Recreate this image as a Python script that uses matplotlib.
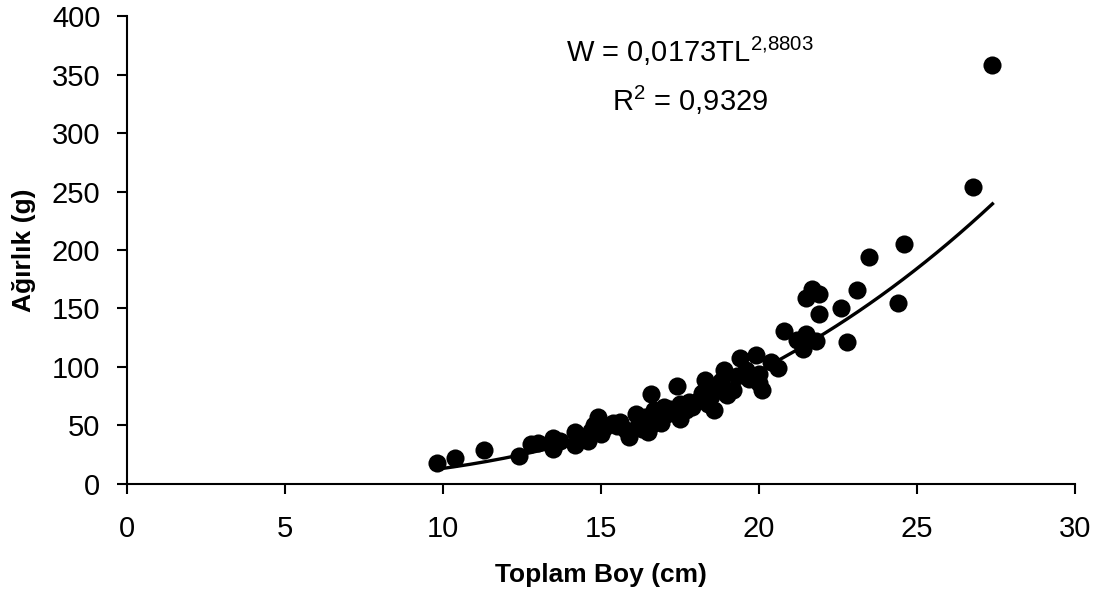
import matplotlib
matplotlib.use("Agg")
import matplotlib.pyplot as plt
import numpy as np

plt.rcParams['font.family'] = ['Liberation Sans', 'DejaVu Sans']
plt.rcParams['mathtext.fontset'] = 'custom'
plt.rcParams['mathtext.rm'] = 'Liberation Sans'

# Data
length_cm = [9.8, 10.4, 11.3, 12.4, 12.8, 13.0, 13.5, 13.5, 13.7, 14.2, 14.2, 14.4,
             14.6, 14.7, 14.8, 14.9, 15.0, 15.1, 15.4, 15.5, 15.6, 15.8, 15.9, 16.1,
             16.2, 16.3, 16.4, 16.5, 16.6, 16.6, 16.7, 16.8, 16.9, 17.0, 17.1, 17.2,
             17.4, 17.5, 17.5, 17.7, 17.8, 17.9, 18.1, 18.2, 18.3, 18.4, 18.5, 18.6,
             18.7, 18.8, 18.9, 19.0, 19.2, 19.3, 19.4, 19.6, 19.7, 19.9, 20.0, 20.0,
             20.1, 20.4, 20.6, 20.8, 21.2, 21.4, 21.5, 21.5, 21.7, 21.8, 21.9, 21.9,
             22.6, 22.8, 23.1, 23.5, 24.4, 24.6, 26.8, 27.4]
weight_g = [18, 22, 29, 24, 34, 35, 30, 39, 37, 33, 44, 40,
            37, 45, 50, 57, 43, 48, 52, 49, 53, 46, 40, 60,
            52, 47, 57, 44, 77, 50, 63, 58, 52, 66, 60, 64,
            84, 55, 68, 63, 70, 66, 72, 78, 89, 68, 75, 63,
            82, 88, 97, 76, 80, 92, 108, 97, 90, 110, 94, 86,
            80, 104, 99, 131, 123, 115, 159, 128, 167, 122, 162, 145,
            150, 121, 166, 194, 155, 205, 254, 358]

coef_a = 0.0173
coef_b = 2.8803
r2 = 0.9329
fit_range = [9.8, 27.4]

fig = plt.figure(figsize=(11.01, 5.98), dpi=100)
ax = fig.add_axes([0.1153, 0.191, 0.8607, 0.782])

ax.scatter(length_cm, weight_g, s=170, color='black', zorder=3, linewidths=0)
xf = np.linspace(fit_range[0], fit_range[1], 200)
ax.plot(xf, coef_a * xf ** coef_b, color='black', lw=2.4, zorder=2)

ax.set_xlim(0, 30)
ax.set_ylim(0, 400)
ax.set_xticks(range(0, 31, 5))
ax.set_yticks(range(0, 401, 50))
for s in ['top', 'right']:
    ax.spines[s].set_visible(False)
for s in ['left', 'bottom']:
    ax.spines[s].set_linewidth(1.5)
ax.tick_params(direction='out', length=7.2, width=1.5, labelsize=21)
ax.tick_params(axis='y', pad=12)
ax.tick_params(axis='x', pad=15)

ax.set_xlabel('Toplam Boy (cm)', fontsize=19, fontweight='bold', labelpad=15)
ax.set_ylabel('Ağırlık (g)', fontsize=19, fontweight='bold', labelpad=11)

ax.text(0.594, 0.925, r'W = 0,0173TL$^{\mathregular{2{,}8803}}$', transform=ax.transAxes,
        ha='center', va='center', fontsize=21)
ax.text(0.594, 0.82, r'R$^{\mathregular{2}}$ = 0,9329', transform=ax.transAxes,
        ha='center', va='center', fontsize=21)

fig.savefig('out.png', dpi=100)
